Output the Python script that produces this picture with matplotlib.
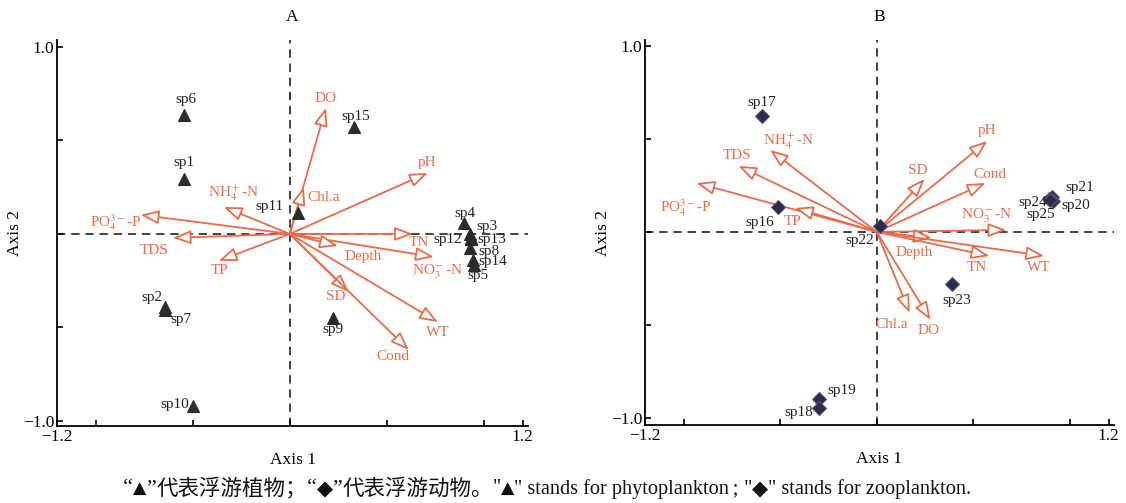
import matplotlib
matplotlib.use("Agg")
import matplotlib.pyplot as plt
from matplotlib.patches import FancyArrowPatch

plt.rcParams['font.family'] = ['Liberation Serif', 'DejaVu Sans', 'Noto Sans CJK SC']
plt.rcParams['mathtext.fontset'] = 'stix'

# ---------------- Data: panel A (phytoplankton) ----------------
a_species = ['sp6', 'sp1', 'sp11', 'sp15', 'sp4', 'sp3', 'sp12', 'sp13', 'sp8',
             'sp14', 'sp5', 'sp2', 'sp7', 'sp9', 'sp10']
a_sp_x = [-0.546, -0.546, 0.041, 0.330, 0.897, 0.928, 0.933, 0.933, 0.928,
          0.943, 0.948, -0.644, -0.644, 0.222, -0.500]
a_sp_y = [0.636, 0.294, 0.112, 0.572, 0.059, 0.000, -0.021, -0.027, -0.075,
          -0.139, -0.166, -0.390, -0.406, -0.449, -0.920]

a_env = ['DO', 'Chl.a', 'pH', 'TN', 'NO3', 'Depth', 'SD', 'WT', 'Cond',
         'NH4', 'PO4', 'TDS', 'TP']
a_env_x = [0.186, 0.072, 0.711, 0.634, 0.742, 0.247, 0.304, 0.763, 0.613,
           -0.340, -0.768, -0.603, -0.366]
a_env_y = [0.674, 0.251, 0.326, 0.000, -0.123, -0.064, -0.310, -0.471, -0.620,
           0.144, 0.102, -0.021, -0.144]

# ---------------- Data: panel B (zooplankton) ----------------
b_species = ['sp17', 'sp16', 'sp22', 'sp21', 'sp20', 'sp24', 'sp25', 'sp23', 'sp19', 'sp18']
b_sp_x = [-0.593, -0.510, 0.015, 0.907, 0.912, 0.892, 0.897, 0.387, -0.299, -0.299]
b_sp_y = [0.624, 0.134, 0.032, 0.188, 0.167, 0.177, 0.172, -0.280, -0.898, -0.946]

b_env = ['pH', 'SD', 'Cond', 'NO3', 'Depth', 'TN', 'WT', 'Chl.a', 'DO',
         'NH4', 'TDS', 'PO4', 'TP']
b_env_x = [0.572, 0.247, 0.562, 0.670, 0.284, 0.582, 0.866, 0.170, 0.278,
           -0.552, -0.716, -0.933, -0.423]
b_env_y = [0.489, 0.285, 0.263, 0.011, -0.032, -0.129, -0.129, -0.435, -0.473,
           0.441, 0.355, 0.263, 0.129]

env_display = {
    'DO': 'DO', 'Chl.a': 'Chl.a', 'pH': 'pH', 'TN': 'TN', 'Depth': 'Depth',
    'SD': 'SD', 'WT': 'WT', 'Cond': 'Cond', 'TDS': 'TDS', 'TP': 'TP',
    'NO3': r'NO$_3^-$-N', 'NH4': r'NH$_4^+$-N', 'PO4': r'PO$_4^{3-}$-P',
}

# ---------------- Label placement (pixel offsets) ----------------
a_sp_off = {'sp6': (2, 15), 'sp1': (0, 16), 'sp11': (-28, 6), 'sp15': (2, 10),
            'sp4': (1, 9), 'sp3': (17, 7), 'sp12': (-23, -2), 'sp13': (21, -1),
            'sp8': (19, -4), 'sp14': (20, -2), 'sp5': (4, -11), 'sp2': (-13, 9),
            'sp7': (16, -10), 'sp9': (0, -12), 'sp10': (-18, 1)}
a_env_off = {'DO': (0, 9), 'Chl.a': (20, -11), 'pH': (-1, 10), 'TN': (6, -9),
             'NO3': (4, -15), 'Depth': (25, -11), 'SD': (-13, -5), 'WT': (0, -10),
             'Cond': (-16, -7), 'NH4': (10, 14), 'PO4': (-25, -8), 'TDS': (-19, -13),
             'TP': (1, -10)}
b_sp_off = {'sp17': (0, 13), 'sp16': (-19, -15), 'sp22': (-20, -15), 'sp21': (28, 9),
            'sp20': (23, -5), 'sp24': (-16, -3), 'sp25': (-9, -15), 'sp23': (5, -16),
            'sp19': (23, 8), 'sp18': (-20, -5)}
b_env_off = {'pH': (0, 10), 'SD': (-7, 8), 'Cond': (5, 9), 'NO3': (-20, 14),
             'Depth': (-17, -15), 'TN': (-12, -12), 'WT': (-5, -12), 'Chl.a': (-18, -12),
             'DO': (-2, -11), 'NH4': (18, 9), 'TDS': (-1, 10), 'PO4': (-11, -25),
             'TP': (-2, -14)}

ARROW_C = '#ec6a4a'
W, H = 1126, 503
fig = plt.figure(figsize=(W / 100, H / 100), dpi=100)

axA = fig.add_axes([57 / W, 1 - 426 / H, (528 - 57) / W, (426 - 40) / H])
axB = fig.add_axes([645 / W, 1 - 425 / H, (1114 - 645) / W, (425 - 40) / H])


def setup(ax, title, ylim):
    ax.set_xlim(-1.2, 1.228)
    ax.set_ylim(*ylim)
    for s in ['top', 'right']:
        ax.spines[s].set_visible(False)
    for s in ['left', 'bottom']:
        ax.spines[s].set_linewidth(1.3)
    ax.set_xticks([-1.2, -1.0, -0.5, 0, 0.5, 1.0, 1.2])
    ax.set_xticklabels(['\u22121.2', '', '', '', '', '', '1.2'])
    ax.set_yticks([-1.0, -0.5, 0, 0.5, 1.0])
    ax.set_yticklabels(['\u22121.0', '', '', '', '1.0'])
    ax.tick_params(direction='in', length=4, width=1.2, labelsize=12.5, pad=2)
    ax.axhline(0, color='#222222', ls=(0, (5, 3.5)), lw=1.2, zorder=1)
    ax.axvline(0, color='#222222', ls=(0, (5, 3.5)), lw=1.2, zorder=1)
    ax.set_title(title, fontsize=12.5, pad=14)
    ax.set_xlabel('Axis 1', fontsize=12.5, va='center')
    ax.set_ylabel('Axis 2', fontsize=12.5, va='center')
    bb = ax.get_position()
    ax.xaxis.set_label_coords(0.5, -(34 / H) / bb.height)
    ax.yaxis.set_label_coords(-(42 / W) / bb.width, 0.5)


def arrows(ax, names, xs, ys, offs):
    for n, x, y in zip(names, xs, ys):
        ar = FancyArrowPatch((0, 0), (x, y),
                             arrowstyle='-|>,head_length=1.1,head_width=0.42',
                             mutation_scale=10, shrinkA=0, shrinkB=0,
                             fc='white', ec=ARROW_C, lw=1.3, zorder=3)
        ax.add_patch(ar)
        ax.annotate(env_display[n], (x, y), xytext=offs[n], textcoords='offset pixels',
                    ha='center', va='center', color=ARROW_C, fontsize=11, zorder=5)


def species(ax, names, xs, ys, offs, marker, color, ms, ec):
    ax.plot(xs, ys, ls='none', marker=marker, color=color, ms=ms,
            mec=ec, mew=0.8, zorder=4)
    for n, x, y in zip(names, xs, ys):
        ax.annotate(n, (x, y), xytext=offs[n], textcoords='offset pixels',
                    ha='center', va='center', color='#222222', fontsize=11, zorder=5)


setup(axA, 'A', (-1.027, 1.037))
arrows(axA, a_env, a_env_x, a_env_y, a_env_off)
species(axA, a_species, a_sp_x, a_sp_y, a_sp_off, '^', '#2b2b2b', 8, '#2b2b2b')

setup(axB, 'B', (-1.038, 1.032))
arrows(axB, b_env, b_env_x, b_env_y, b_env_off)
species(axB, b_species, b_sp_x, b_sp_y, b_sp_off, 'D', '#2c2c48', 7.5, '#55557a')

# ---------------- Caption (laid out piece by piece) ----------------
SERIF = ['Liberation Serif']
SYM = ['DejaVu Sans']
CJK = ['Noto Sans CJK SC']
caption_parts = [
    ('\u201c', SERIF, 16), ('\u25b2', SYM, 12.5), ('\u201d', SERIF, 16),
    ('代表浮游植物；', CJK, 15.5),
    ('\u201c', SERIF, 16), ('\u25c6', SYM, 15), ('\u201d', SERIF, 16),
    ('代表浮游动物。', CJK, 15.5),
    ('"', SERIF, 14.6), ('\u25b2', SYM, 12.5), ('" stands for phytoplankton\u2009;', SERIF, 14.6),
    (' "', SERIF, 14.6), ('\u25c6', SYM, 15), ('" stands for zooplankton.', SERIF, 14.6),
]
renderer = fig.canvas.get_renderer()
x_px = 123
y_frac = 1 - 489 / H
for txt, fam, size in caption_parts:
    t = fig.text(x_px / W, y_frac, txt, ha='left', va='center', family=fam,
                 fontsize=size, color='#111111')
    x_px += t.get_window_extent(renderer).width

fig.savefig('out.png', dpi=100)
